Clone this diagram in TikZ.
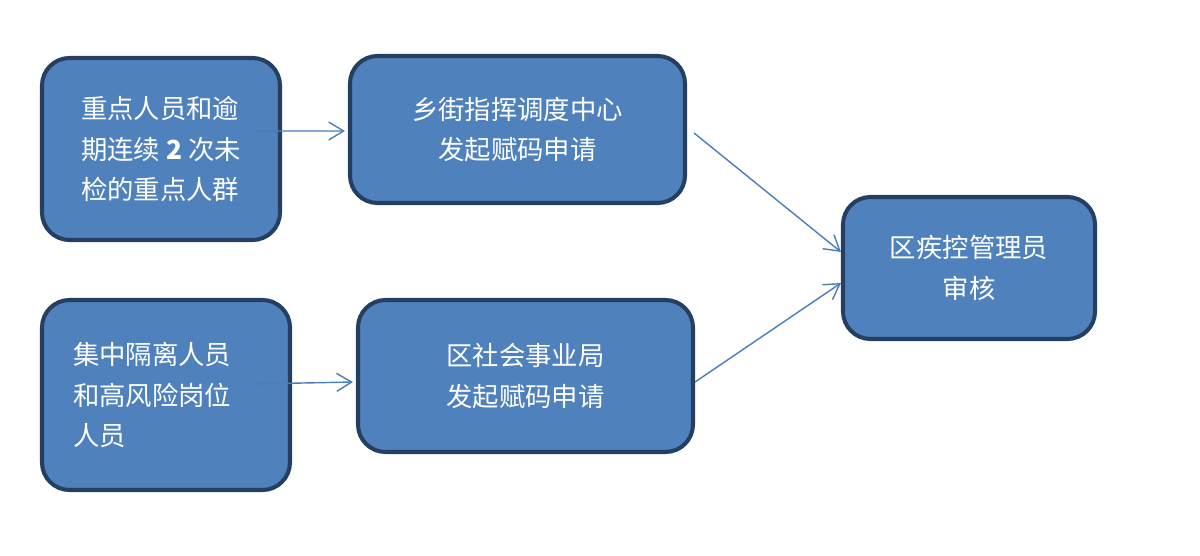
\documentclass[tikz,border=0pt]{standalone}
\usepackage{fontspec}
\setmainfont{Noto Sans CJK SC}
\usetikzlibrary{arrows.meta}

\definecolor{boxfill}{HTML}{4F81BD}
\definecolor{boxline}{HTML}{243F60}
\definecolor{arrowline}{HTML}{4A7EBB}

\tikzset{
  stepbox/.style={draw=boxline,fill=boxfill,line width=2.3pt,rounded corners=0.55cm,
    text=white,font=\fontsize{15pt}{23pt}\selectfont,align=center,inner sep=0pt},
  flow/.style={draw=arrowline,line width=0.8pt,-{Straight Barb[length=3mm,width=3.6mm]}}
}

\begin{document}
\begin{tikzpicture}

\useasboundingbox (0,0) rectangle (24,-11.12);

% Define boxes
\node[stepbox,minimum width=4.76cm,minimum height=3.64cm,align=left] (key) at (3.22,-2.98)
  {重点人员和逾\\期连续 {\bfseries 2} 次未\\检的重点人群};
\node[stepbox,minimum width=6.7cm,minimum height=2.94cm] (street) at (10.35,-2.59)
  {乡街指挥调度中心\\发起赋码申请};
\node[stepbox,minimum width=5.04cm,minimum height=2.84cm] (cdc) at (19.38,-5.36)
  {区疾控管理员\\审核};
\node[stepbox,minimum height=3.8cm,align=left,text width=3.72cm,inner xsep=0.62cm] (iso) at (3.32,-7.9)
  {集中隔离人员\\和高风险岗位\\人员};
\node[stepbox,minimum width=6.7cm,minimum height=3.04cm] (bureau) at (10.51,-7.52)
  {区社会事业局\\发起赋码申请};

% Draw arrows
\draw[flow] ([xshift=-0.56cm,yshift=0.36cm]key.east) -- ([xshift=-0.06cm,yshift=-0.03cm]street.west);
\draw[flow] ([xshift=-0.76cm,yshift=0.22cm]iso.east) -- ([xshift=-0.06cm,yshift=-0.12cm]bureau.west);
\draw[flow] ([xshift=0.14cm,yshift=-0.07cm]street.east) -- ([yshift=0.32cm]cdc.west);
\draw[flow] ([yshift=-0.12cm]bureau.east) -- ([yshift=-0.3cm]cdc.west);

\end{tikzpicture}
\end{document}
